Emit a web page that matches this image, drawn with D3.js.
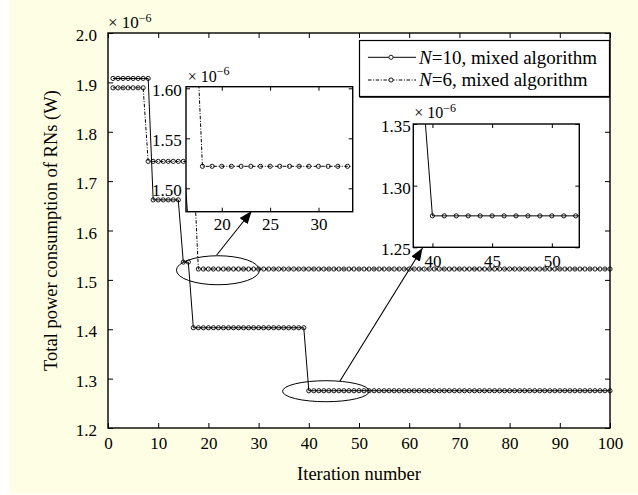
<!DOCTYPE html>
<html><head><meta charset="utf-8">
<script src="https://cdn.jsdelivr.net/npm/d3@7"></script>
<style>
body{margin:0;background:#fff}
svg{display:block}
text{font-family:"Liberation Serif","Times New Roman",serif;fill:#000}
</style>
</head><body>
<svg id="chart" width="638" height="495"></svg>
<script>
// ---------------- data ----------------
const iterations = d3.range(1, 101);
const powerN10 = [
  1.908,1.908,1.908,1.908,1.908,1.908,1.908,1.908,
  1.662,1.662,1.662,1.662,1.662,1.662,
  1.536,1.536,
  1.403,1.403,1.403,1.403,1.403,1.403,1.403,1.403,1.403,1.403,
  1.403,1.403,1.403,1.403,1.403,1.403,1.403,1.403,1.403,1.403,
  1.403,1.403,1.403,
  1.2755,1.2755,1.2755,1.2755,1.2755,1.2755,1.2755,1.2755,1.2755,1.2755,
  1.2755,1.2755,1.2755,1.2755,1.2755,1.2755,1.2755,1.2755,1.2755,1.2755,
  1.2755,1.2755,1.2755,1.2755,1.2755,1.2755,1.2755,1.2755,1.2755,1.2755,
  1.2755,1.2755,1.2755,1.2755,1.2755,1.2755,1.2755,1.2755,1.2755,1.2755,
  1.2755,1.2755,1.2755,1.2755,1.2755,1.2755,1.2755,1.2755,1.2755,1.2755,
  1.2755,1.2755,1.2755,1.2755,1.2755,1.2755,1.2755,1.2755,1.2755,1.2755,
  1.2755
];
const powerN6 = [
  1.889,1.889,1.889,1.889,1.889,1.889,1.889,
  1.740,1.740,1.740,1.740,1.740,1.740,1.740,1.740,1.740,1.740,
  1.522,1.522,1.522,1.522,1.522,1.522,1.522,1.522,1.522,1.522,
  1.522,1.522,1.522,1.522,1.522,1.522,1.522,1.522,1.522,1.522,
  1.522,1.522,1.522,1.522,1.522,1.522,1.522,1.522,1.522,1.522,
  1.522,1.522,1.522,1.522,1.522,1.522,1.522,1.522,1.522,1.522,
  1.522,1.522,1.522,1.522,1.522,1.522,1.522,1.522,1.522,1.522,
  1.522,1.522,1.522,1.522,1.522,1.522,1.522,1.522,1.522,1.522,
  1.522,1.522,1.522,1.522,1.522,1.522,1.522,1.522,1.522,1.522,
  1.522,1.522,1.522,1.522,1.522,1.522,1.522,1.522,1.522,1.522,
  1.522,1.522,1.522
];
const seriesLabels = [["N", "=10, mixed algorithm"], ["N", "=6, mixed algorithm"]];
const xTicks = [0,10,20,30,40,50,60,70,80,90,100];
const yTicks = [1.2,1.3,1.4,1.5,1.6,1.7,1.8,1.9,2.0];
const inset1XTicks = [20,25,30];
const inset1YTicks = [1.50,1.55,1.60];
const inset2XTicks = [40,45,50];
const inset2YTicks = [1.25,1.30,1.35];
const xLabel = "Iteration number";
const yLabel = "Total power consumption of RNs (W)";
const scaleNote = "10";
const scaleExp = "\u22126";

// ---------------- layout ----------------
const svg = d3.select("#chart");
svg.append("rect").attr("x",10).attr("y",0).attr("width",628).attr("height",494).attr("fill","#fefee4");

const L=108, R=610, T=33, B=428;
const x = d3.scaleLinear().domain([0,100]).range([L,R]);
const y = d3.scaleLinear().domain([1.2,2.0]).range([B,T]);

const series = [
  {values: powerN10, dash: null},
  {values: powerN6, dash: "3.5,1.6,1,1.6"}
];
const pts = s => iterations.map((it,i)=>[it, s.values[i]]);

svg.append("defs").append("marker")
  .attr("id","ah").attr("markerUnits","userSpaceOnUse")
  .attr("markerWidth",14).attr("markerHeight",12)
  .attr("viewBox","0 -6 14 12").attr("refX",13).attr("refY",0)
  .attr("orient","auto")
  .append("path").attr("d","M0,-5L13,0L0,5Z").attr("fill","#000");

// plot background
svg.append("rect").attr("x",L).attr("y",T).attr("width",R-L).attr("height",B-T).attr("fill","#fff");

const SERIF = '"Liberation Serif", "Times New Roman", serif';

function drawAxes(g, xs, ys, xt, yt, opt){
  const fs = opt.fs;
  const bx = g.append("g").attr("transform",`translate(0,${ys.range()[0]})`)
    .call(d3.axisBottom(xs).tickValues(xt).tickSize(-opt.tick).tickPadding(opt.xPad).tickFormat(opt.xFmt));
  const tx = g.append("g").attr("transform",`translate(0,${ys.range()[1]})`)
    .call(d3.axisTop(xs).tickValues(xt).tickSize(-opt.tick).tickFormat(""));
  const ly = g.append("g").attr("transform",`translate(${xs.range()[0]},0)`)
    .call(d3.axisLeft(ys).tickValues(yt).tickSize(-opt.tick).tickPadding(opt.yPad).tickFormat(opt.yFmt));
  const ry = g.append("g").attr("transform",`translate(${xs.range()[1]},0)`)
    .call(d3.axisRight(ys).tickValues(yt).tickSize(-opt.tick).tickFormat(""));
  [bx,tx,ly,ry].forEach(a=>{
    a.attr("font-family",SERIF);
    a.select(".domain").remove();
    a.selectAll("line").attr("stroke","#000").attr("stroke-width",1);
    a.selectAll("text").attr("font-size",fs).style("font-family",SERIF).attr("fill","#000");
  });
  ly.selectAll("text").attr("dy","0.45em");
  g.append("rect").attr("x",xs.range()[0]).attr("y",ys.range()[1])
    .attr("width",xs.range()[1]-xs.range()[0]).attr("height",ys.range()[0]-ys.range()[1])
    .attr("fill","none").attr("stroke","#000").attr("stroke-width",opt.frame);
}

function drawSeries(g, xs, ys, clipId){
  const line = d3.line().x(d=>xs(d[0])).y(d=>ys(d[1]));
  const sg = g.append("g");
  if (clipId) sg.attr("clip-path",`url(#${clipId})`);
  series.forEach(s=>{
    const p = pts(s);
    sg.append("path").attr("d",line(p)).attr("fill","none").attr("stroke","#000")
      .attr("stroke-width",1).attr("stroke-dasharray",s.dash);
    sg.selectAll(null).data(p).enter().append("circle")
      .attr("cx",d=>xs(d[0])).attr("cy",d=>ys(d[1])).attr("r",2.1)
      .attr("fill","none").attr("stroke","#000").attr("stroke-width",0.9);
  });
}

function scaleText(g, px, py, fs, sfs, sdy){
  const t = g.append("text").attr("x",px).attr("y",py).attr("font-size",fs);
  t.append("tspan").text("\u00d7 " + scaleNote);
  t.append("tspan").attr("dy",sdy).attr("font-size",sfs).text(scaleExp);
}

// main series
const mainG = svg.append("g");
drawSeries(mainG, x, y, null);

// ellipses
svg.append("ellipse").attr("cx",x(21.9)).attr("cy",y(1.5195)).attr("rx",41.5).attr("ry",14.5)
  .attr("fill","none").attr("stroke","#000").attr("stroke-width",1);
svg.append("ellipse").attr("cx",x(43.4)).attr("cy",y(1.2745)).attr("rx",43.3).attr("ry",10.5)
  .attr("fill","none").attr("stroke","#000").attr("stroke-width",1);

// main axes
drawAxes(svg, x, y, xTicks, yTicks, {fs:17, tick:5, xPad:9.4, yPad:11, frame:1.4,
  xFmt:d3.format("d"), yFmt:d3.format(".1f")});
scaleText(svg, 108, 28, 17, 12, -6.5);

// axis titles
svg.append("text").attr("x",359).attr("y",479.5).attr("text-anchor","middle").attr("font-size",18.5).text(xLabel);
svg.append("text").attr("transform","translate(57,230.5) rotate(-90)").attr("text-anchor","middle").attr("font-size",18.5).text(yLabel);

// insets
function inset(id, fx, fy, fw, fh, xd, yd, xt, yt, yPad, xPad, note){
  const xs = d3.scaleLinear().domain(xd).range([fx, fx+fw]);
  const ys = d3.scaleLinear().domain(yd).range([fy+fh, fy]);
  const g = svg.append("g");
  svg.select("defs").append("clipPath").attr("id",id)
    .append("rect").attr("x",fx).attr("y",fy).attr("width",fw).attr("height",fh);
  g.append("rect").attr("x",fx).attr("y",fy).attr("width",fw).attr("height",fh).attr("fill","#fff");
  drawSeries(g, xs, ys, id);
  drawAxes(g, xs, ys, xt, yt, {fs:17, tick:4, xPad:xPad, yPad:yPad, frame:1.4,
    xFmt:d3.format("d"), yFmt:d3.format(".2f")});
  scaleText(g, note[0], note[1], 16, 12, -6.5);
}
inset("clip1", 186, 86.7, 166.7, 125, [16.3, 33.54], [1.4766, 1.6016], inset1XTicks, inset1YTicks, 4.3, 6.3, [187.7, 81.7]);
inset("clip2", 413.3, 124, 166, 123.3, [38.4, 52.3], [1.25, 1.35], inset2XTicks, inset2YTicks, 2.6, 8, [414.3, 118.3]);

// arrows
svg.append("line").attr("x1",216.7).attr("y1",255).attr("x2",251.7).attr("y2",211)
  .attr("stroke","#000").attr("stroke-width",1.1).attr("marker-end","url(#ah)");
svg.append("line").attr("x1",340).attr("y1",381).attr("x2",422.5).attr("y2",248)
  .attr("stroke","#000").attr("stroke-width",1.1).attr("marker-end","url(#ah)");

// legend
const lg = svg.append("g");
lg.append("rect").attr("x",359.5).attr("y",40.5).attr("width",250).attr("height",56)
  .attr("fill","#fff").attr("stroke","#000").attr("stroke-width",1.2);
lg.append("line").attr("x1",359.5).attr("x2",609.5).attr("y1",96.8).attr("y2",96.8)
  .attr("stroke","#000").attr("stroke-width",1.8);
const legY = [57.3, 80];
series.forEach((s,i)=>{
  lg.append("line").attr("x1",368).attr("x2",416).attr("y1",legY[i]).attr("y2",legY[i])
    .attr("stroke","#000").attr("stroke-width",1).attr("stroke-dasharray",s.dash);
  lg.append("circle").attr("cx",391).attr("cy",legY[i]).attr("r",2.1)
    .attr("fill","#fff").attr("stroke","#000").attr("stroke-width",0.9);
  const t = lg.append("text").attr("x",419).attr("y",legY[i]+6.2).attr("font-size",19);
  t.append("tspan").attr("font-style","italic").text(seriesLabels[i][0]);
  t.append("tspan").text(seriesLabels[i][1]);
});
</script>
</body></html>
